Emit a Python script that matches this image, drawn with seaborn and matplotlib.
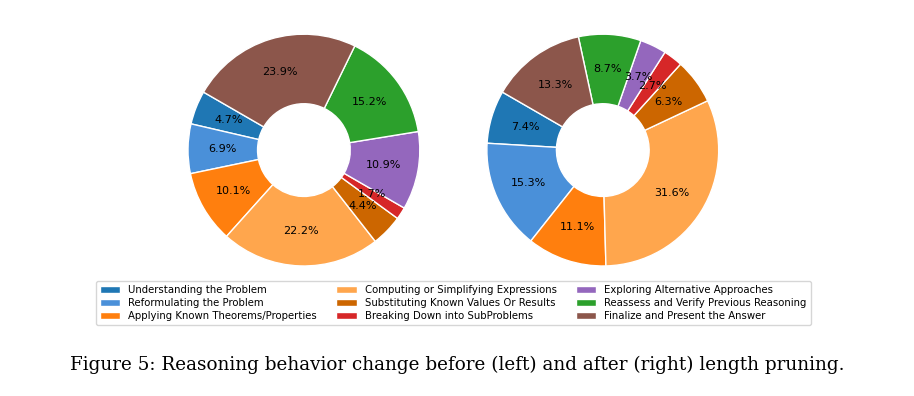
import numpy as np
import pandas as pd
import matplotlib
matplotlib.use("Agg")
import matplotlib.pyplot as plt
import seaborn as sns

categories = [
    "Understanding the Problem",
    "Reformulating the Problem",
    "Applying Known Theorems/Properties",
    "Computing or Simplifying Expressions",
    "Substituting Known Values Or Results",
    "Breaking Down into SubProblems",
    "Exploring Alternative Approaches",
    "Reassess and Verify Previous Reasoning",
    "Finalize and Present the Answer",
]
before_pct = [4.7, 6.9, 10.1, 22.2, 4.4, 1.7, 10.9, 15.2, 23.9]
after_pct = [7.4, 15.3, 11.1, 31.6, 6.3, 2.7, 3.7, 8.7, 13.3]
colors = ["#1f77b4", "#4a90d9", "#ff7f0e", "#ffa64d", "#cc6600",
          "#d62728", "#9467bd", "#2ca02c", "#8c564b"]
caption = "Figure 5: Reasoning behavior change before (left) and after (right) length pruning."

if __name__ == "__main__":
    sns.set_style("white")
    plt.rcParams["font.family"] = ["DejaVu Sans"]
    plt.rcParams["text.color"] = "black"

    fig = plt.figure(figsize=(9.14, 3.96), dpi=100)

    # 두 개의 도넛 차트
    ax_left = fig.add_axes([0.174, 0.255, 0.317, 0.732])
    ax_right = fig.add_axes([0.501, 0.255, 0.317, 0.732])

    wedges = None
    for ax, vals in [(ax_left, before_pct), (ax_right, after_pct)]:
        w, _, autotexts = ax.pie(
            vals,
            colors=colors,
            startangle=150,
            autopct="%1.1f%%",
            pctdistance=0.7,
            wedgeprops=dict(width=0.6, edgecolor="white", linewidth=1),
            textprops=dict(fontsize=8, color="black"),
        )
        ax.set_aspect("equal")
        if wedges is None:
            wedges = w

    fig.legend(
        wedges,
        categories,
        loc="center",
        bbox_to_anchor=(0.496, 0.234),
        ncol=3,
        fontsize=7.3,
        frameon=True,
        handleheight=0.7,
        columnspacing=1.9,
        labelspacing=0.3,
    )

    fig.text(0.5, 0.078, caption, ha="center", va="center",
             fontsize=13.2, family="DejaVu Serif")

    fig.savefig("out.png", dpi=100)
